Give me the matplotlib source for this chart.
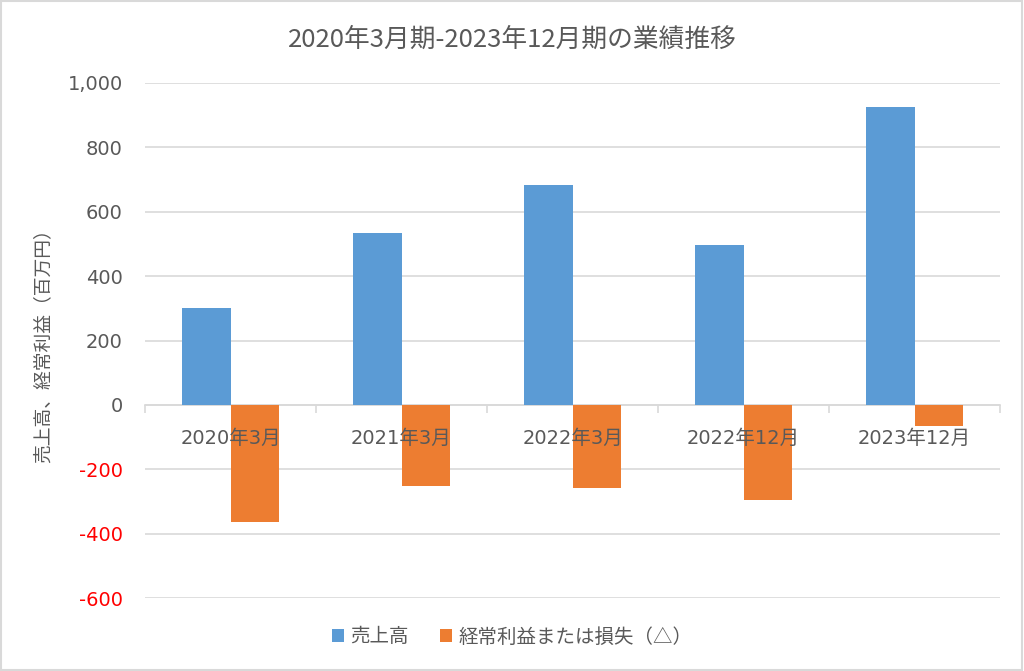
import matplotlib
matplotlib.use("Agg")
import matplotlib.pyplot as plt
import numpy as np
from matplotlib.patches import Rectangle
from matplotlib.ticker import FuncFormatter

# wide latin digits (like Meiryo) + japanese glyphs
MIXED = ["DejaVu Sans", "Noto Sans CJK JP"]
JP = ["Noto Sans CJK JP", "DejaVu Sans"]
plt.rcParams["font.family"] = MIXED

categories = ["2020年3月", "2021年3月", "2022年3月", "2022年12月", "2023年12月"]
sales = [300, 535, 683, 497, 924]
ordinary_profit = [-365, -252, -258, -295, -67]
series_names = ["売上高", "経常利益または損失（△）"]

BLUE = "#5B9BD5"
ORANGE = "#ED7D31"
GRAY = "#595959"
GRID = "#D9D9D9"

fig = plt.figure(figsize=(10.24, 6.71), dpi=100)
ax = fig.add_axes([145 / 1024, 1 - 598 / 671, 855 / 1024, 515 / 671])

x = np.arange(len(categories))
w = 0.285
ax.bar(x - w / 2, sales, w, color=BLUE, label=series_names[0], zorder=3)
ax.bar(x + w / 2, ordinary_profit, w, color=ORANGE, label=series_names[1], zorder=3)

ax.set_xlim(-0.5, len(categories) - 0.5)
ax.set_ylim(-600, 1000)
ax.set_yticks(range(-600, 1001, 200))
ax.yaxis.set_major_formatter(FuncFormatter(lambda v, p: f"{int(v):,}"))
ax.grid(axis="y", color=GRID, linewidth=1.2, zorder=0)
ax.tick_params(axis="y", length=0, pad=16, labelsize=14, labelcolor=GRAY)
for lbl in ax.get_yticklabels():
    if float(lbl.get_position()[1]) < 0:
        lbl.set_color("#FF0000")

for s in ["top", "right", "left"]:
    ax.spines[s].set_visible(False)
ax.spines["bottom"].set_position(("data", 0))
ax.spines["bottom"].set_color(GRID)
ax.spines["bottom"].set_linewidth(1.2)
ax.set_xticks(x)
ax.set_xticklabels(categories)
ax.set_xticks(np.arange(-0.5, len(categories)), minor=True)
ax.tick_params(axis="x", which="major", length=0, pad=17, labelsize=14, labelcolor=GRAY)
ax.tick_params(axis="x", which="minor", length=6, color=GRID, width=1.2)
ax.xaxis.set_zorder(5)  # category labels sit on top of the bars

ax.set_ylabel("売上高、経常利益（百万円）", fontsize=13.5, color=GRAY, family=JP)
ax.yaxis.set_label_coords(-92 / 855, (598 - 341) / 515)

fig.suptitle("2020年3月期-2023年12月期の業績推移", fontsize=18.5, color=GRAY,
             y=1 - 40 / 671, va="center", family=JP)

fig.legend(loc="center", bbox_to_anchor=(0.5, 1 - 637 / 671), ncol=2, frameon=False,
           prop={"family": JP, "size": 14}, labelcolor=GRAY, handlelength=0.65,
           handleheight=0.65, handletextpad=0.3, columnspacing=1.6)

fig.patches.append(Rectangle((0.001, 0.001), 0.997, 0.997, transform=fig.transFigure,
                             fill=False, edgecolor="#D9D9D9", linewidth=1.5))

fig.savefig("out.png", dpi=100)
